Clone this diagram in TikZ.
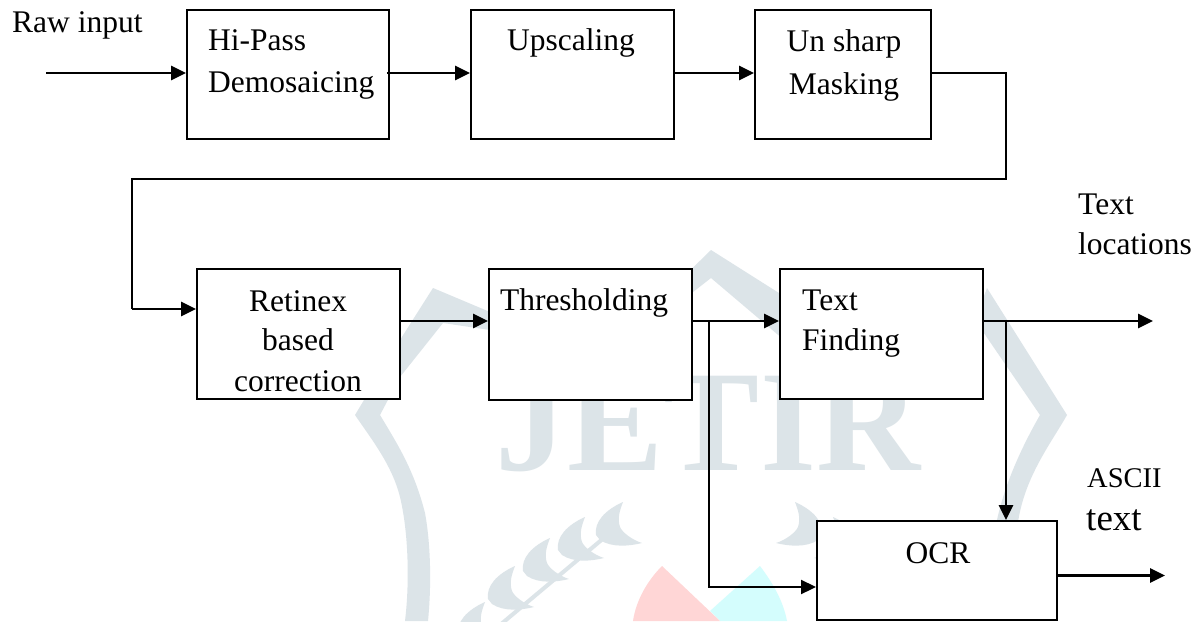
\documentclass[tikz,border=0pt]{standalone}
\usepackage{fontspec}
\setmainfont{Liberation Serif}
\usetikzlibrary{arrows.meta}
\definecolor{wm}{RGB}{220,228,232}
\definecolor{wmred}{RGB}{255,214,214}
\definecolor{wmcyan}{RGB}{212,253,253}
\tikzset{
  x=1pt,y=-1pt,
  blockbox/.style={draw=black,line width=1.9pt,fill=white,inner sep=0},
  lab/.style={font=\fontsize{31.5}{36}\selectfont,inner sep=0},
  flow/.style={line width=2.6pt,-{Triangle[length=15pt,width=14pt]}},
  thinflow/.style={line width=1.9pt,-{Triangle[length=15pt,width=14pt]}},
  plain/.style={line width=1.9pt,line join=miter}
}
\begin{document}
\begin{tikzpicture}
\useasboundingbox (0,0) rectangle (1196,621);
\fill[white] (0,0) rectangle (1196,621);
% watermark
\fill[wmcyan] (760,566) .. controls (772,582) and (783,600) .. (787,621) -- (720,621) -- (710,611) -- cycle;
\fill[wmred] (662,566) .. controls (648,580) and (636,600) .. (633,621) -- (720,621) -- cycle;
\node[font=\bfseries\fontsize{144}{144}\selectfont,text=wm,inner sep=0,anchor=base] (wmtext) at (708,470) {JETIR};
\fill[wm] (433,288) -- (490,312) -- (490,330) -- (443,323) -- (400,377) -- (380,415)
  .. controls (398,445) and (414,470) .. (425,513) .. controls (430,540) and (432,580) .. (428,621)
  -- (405,621) .. controls (410,580) and (408,530) .. (400,497) .. controls (392,465) and (372,440) .. (355,415)
  -- (400,340) -- cycle;
\fill[wm] (711,250) -- (790,300) -- (790,345) -- (711,278) -- (670,310) -- (670,290) -- cycle;
\fill[wm] (987,288) -- (1067,415) .. controls (1050,445) and (1022,480) .. (1017,530)
  -- (995,530) .. controls (1002,490) and (1020,450) .. (1040,415) -- (975,320) -- cycle;
\foreach \dx/\dy in {0/0,-38/15,-73/36,-108/64,-138/100}{
  \fill[wm,shift={(\dx,\dy)}] (623,502) .. controls (605,510) and (594,522) .. (596,535)
    -- (600,540) .. controls (612,548) and (630,546) .. (642,543)
    .. controls (632,540) and (622,532) .. (620,527) .. controls (617,518) and (620,510) .. (623,502) -- cycle;
}
\foreach \dx/\dy in {0/0,38/15}{
  \fill[wm,shift={(1418,0)},xscale=-1,shift={(-\dx,\dy)}] (623,502) .. controls (605,510) and (594,522) .. (596,535)
    -- (600,540) .. controls (612,548) and (630,546) .. (642,543)
    .. controls (632,540) and (622,532) .. (620,527) .. controls (617,518) and (620,510) .. (623,502) -- cycle;
}
\draw[wm,line width=4pt] (605,537) -- (500,625);
% boxes
\node[blockbox,minimum width=202pt,minimum height=129pt] (hp) at (288,74.5) {};
\node[blockbox,minimum width=203pt,minimum height=129pt] (up) at (572.5,74.5) {};
\node[blockbox,minimum width=176pt,minimum height=129pt] (us) at (843,74.5) {};
\node[blockbox,minimum width=203pt,minimum height=130pt] (rt) at (298.5,334) {};
\node[blockbox,minimum width=203pt,minimum height=131pt] (th) at (590.5,334.5) {};
\node[blockbox,minimum width=203pt,minimum height=130pt] (tf) at (881.5,334) {};
\node[blockbox,minimum width=240pt,minimum height=99pt] (ocr) at (937,570.5) {};
% labels
\node[lab,anchor=base west] (l1) at (208,50) {Hi-Pass};
\node[lab,anchor=base west] (l2) at (208,92) {Demosaicing};
\node[lab,anchor=base] (l3) at (571,50) {Upscaling};
\node[lab,anchor=base] (l4) at (844,51) {Un sharp};
\node[lab,anchor=base] (l5) at (844,94) {Masking};
\node[lab,anchor=base] (l6) at (298,311) {Retinex};
\node[lab,anchor=base] (l7) at (298,350) {based};
\node[lab,anchor=base] (l8) at (298,391) {correction};
\node[lab,anchor=base] (l9) at (584,310) {Thresholding};
\node[lab,anchor=base west] (l10) at (802,310) {Text};
\node[lab,anchor=base west] (l11) at (802,350) {Finding};
\node[lab,anchor=base] (l12) at (938,563) {OCR};
\node[lab,anchor=base west] (l13) at (12,32) {Raw input};
\node[lab,anchor=base west] (l14) at (1078,214) {Text};
\node[lab,anchor=base west] (l15) at (1078,254) {locations};
\node[lab,anchor=base west,font=\fontsize{28.5}{32}\selectfont] (l16) at (1087,487) {ASCII};
\node[lab,anchor=base west,font=\fontsize{37}{42}\selectfont] (l17) at (1086,530) {text};
% coordinates
\coordinate (in) at (46,73);
\coordinate (c1) at (1006,73);
\coordinate (c2) at (1006,179);
\coordinate (c3) at (132,179);
\coordinate (c4) at (132,309);
\coordinate (o1) at (1153,321);
\coordinate (o2) at (1165,575.5);
\coordinate (b1) at (709,321);
\coordinate (b2) at (709,587);
\coordinate (b3) at (1006,321);
% connectors
\draw[flow] (in) -- (in -| hp.west);
\draw[flow] ([xshift=-3pt]hp.east |- 0,73) -- (up.west |- 0,73);
\draw[flow] (up.east |- 0,73) -- (us.west |- 0,73);
\draw[plain] (us.east |- c1) -- (c1) -- (c2) -- (c3) -- (c4);
\draw[flow] (c4) -- (c4 -| rt.west);
\draw[flow] (rt.east |- 0,321) -- (th.west |- 0,321);
\draw[flow] (th.east |- 0,321) -- (tf.west |- 0,321);
\draw[flow] (tf.east |- o1) -- (o1);
\draw[thinflow] (b1) -- (b2) -- (b2 -| ocr.west);
\draw[flow] (b3) -- (b3 |- ocr.north);
\draw[flow] (ocr.east |- o2) -- (o2);
\end{tikzpicture}
\end{document}
